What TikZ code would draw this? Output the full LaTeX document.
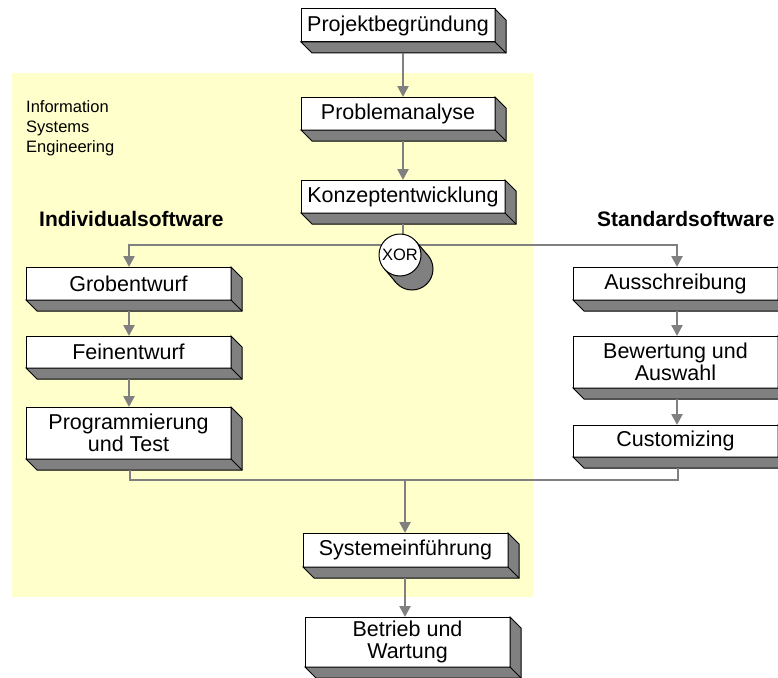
\documentclass[tikz,border=0pt]{standalone}
\usepackage{fontspec}
\setmainfont{Liberation Sans}
\usetikzlibrary{arrows.meta,calc}
\definecolor{bgyellow}{HTML}{FFFFCC}
\definecolor{shd}{HTML}{808080}
\definecolor{conncol}{HTML}{808080}
\tikzset{
  boxn/.style={draw=black, line width=1pt, fill=white, inner sep=0pt, outer sep=0pt,
    align=center, font=\fontsize{21.5}{22}\selectfont},
  edgeline/.style={draw=black, line width=1pt},
  conn/.style={draw=conncol, line width=2.5pt},
  arr/.style={conn, -{Triangle[length=11pt,width=11pt]}},
  smalltext/.style={inner sep=0pt, align=left, font=\fontsize{16.5}{20}\selectfont},
  headtext/.style={inner sep=0pt, font=\fontsize{21}{22}\selectfont\bfseries},
}
\newcommand\bbox[6]{%
  \node[boxn, minimum width=#4pt, minimum height=#5pt] (#1) at ({#2+#4/2},{#3+#5/2}) {#6};
  \draw[edgeline, fill=shd] (#1.south west) -- (#1.south east) -- (#1.north east) -- ++(11,11)
     -- ($(#1.south east)+(11,11)$) -- ($(#1.south west)+(11,11)$) -- cycle;
  \draw[edgeline] (#1.south east) -- ++(11,11);
}
\begin{document}
\begin{tikzpicture}[x=1pt,y=-1pt]
\useasboundingbox (0,0) rectangle (778,677);
\fill[bgyellow] (12,73) rectangle (533,597);

% column coordinates
\coordinate (col) at (403,0);
\coordinate (lcol) at (129,0);
\coordinate (rcol) at (677,0);
\coordinate (split) at (401,245);
\coordinate (mrg) at (405,480);

\node[smalltext, anchor=north west] (ise) at (26,100.5) {Information\\Systems\\Engineering};
\node[headtext, anchor=base west] (indiv) at (39,226) {Individualsoftware};
\node[headtext, anchor=base west] (stand) at (597,226) {Standardsoftware};

% boxes
\bbox{proj}{301}{9}{194}{33}{Projektbegründung}
\bbox{prob}{301}{97}{194}{33}{Problemanalyse}
\bbox{konz}{301}{180}{204}{33}{Konzeptentwicklung}
\bbox{grob}{26}{267}{205}{33}{Grobentwurf}
\bbox{fein}{26}{336}{205}{32}{Feinentwurf}
\bbox{prog}{26}{407}{205}{52}{Programmierung\\und Test}
\bbox{aus}{573}{267}{205}{33}{Ausschreibung}
\bbox{bew}{573}{336}{205}{52}{Bewertung und\\Auswahl}
\bbox{cust}{573}{425}{205}{32}{Customizing}
\bbox{sys}{303}{533}{205}{34}{Systemeinführung}
\bbox{betr}{305}{617}{205}{50}{Betrieb und\\Wartung}

% connectors
\draw[arr] ($(proj.south -| col)+(0,11)$) -- (prob.north -| col);
\draw[arr] ($(prob.south -| col)+(0,11)$) -- (konz.north -| col);
\draw[conn] ($(konz.south -| col)+(0,11)$) -- ($(split -| col)$);
\draw[arr] (split) -| (grob.north -| lcol);
\draw[arr] (split) -| (aus.north -| rcol);
\draw[arr] ($(grob.south -| lcol)+(0,11)$) -- (fein.north -| lcol);
\draw[arr] ($(fein.south -| lcol)+(0,11)$) -- (prog.north -| lcol);
\draw[arr] ($(aus.south -| rcol)+(0,11)$) -- (bew.north -| rcol);
\draw[arr] ($(bew.south -| rcol)+(0,11)$) -- (cust.north -| rcol);
\draw[conn] ($(prog.south -| lcol)+(1,11)$) |- (mrg) -| ($(cust.south -| rcol)+(1,11)$);
\draw[arr] (mrg) -- (sys.north -| mrg);
\draw[arr] ($(sys.south -| mrg)+(0,11)$) -- (betr.north -| mrg);

% XOR connector with 3D shadow
\coordinate (xc) at (400,255);
\draw[edgeline, fill=shd] ($(xc)+(12,14)$) circle (21pt);
\fill[shd] ($(xc)+(-15.9,13.6)$) -- ($(xc)+(15.9,-13.6)$) -- ($(xc)+(27.9,0.4)$) -- ($(xc)+(-3.9,27.6)$) -- cycle;
\draw[edgeline] ($(xc)+(-15.9,13.6)$) -- ($(xc)+(-3.9,27.6)$);
\draw[edgeline] ($(xc)+(15.9,-13.6)$) -- ($(xc)+(27.9,0.4)$);
\node[circle, draw=black, line width=1pt, fill=white, minimum size=42pt, inner sep=0pt,
  font=\fontsize{16.5}{16.5}\selectfont] (xor) at (xc) {XOR};
\end{tikzpicture}
\end{document}
